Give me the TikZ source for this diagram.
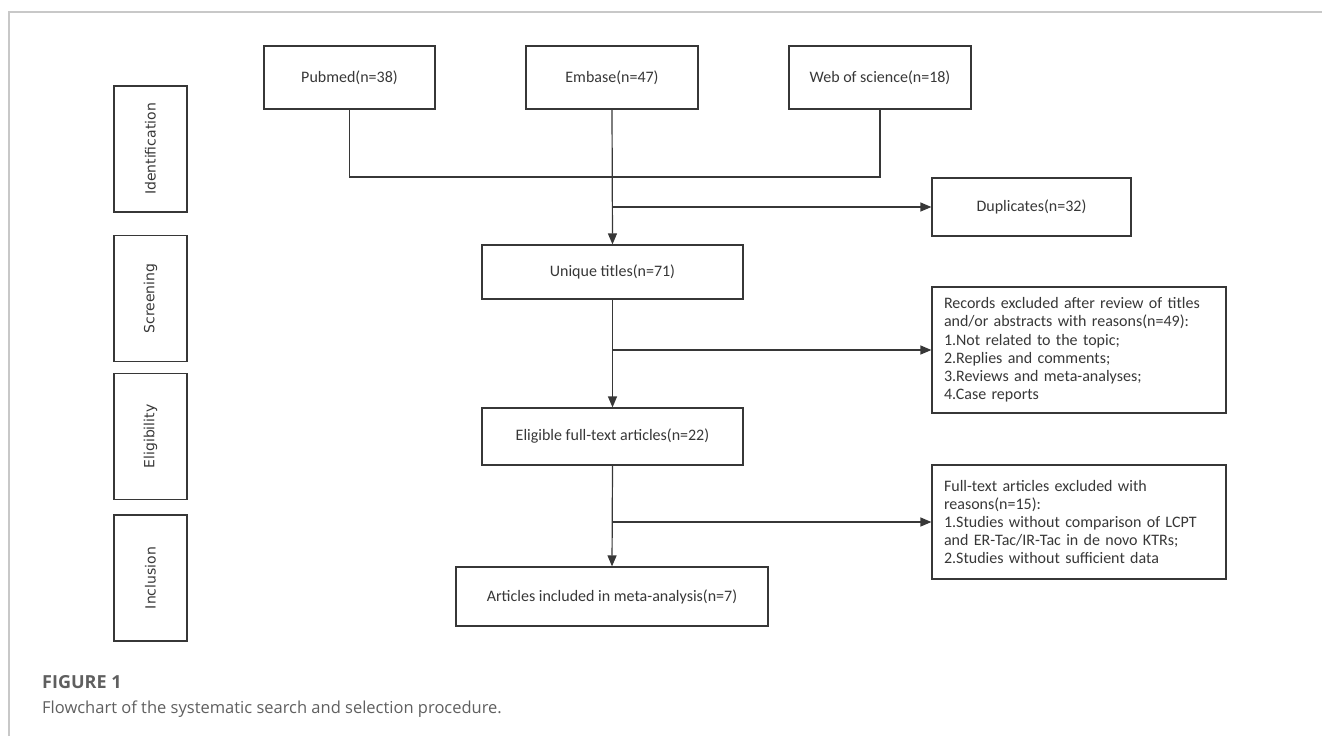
\documentclass[tikz,border=0pt]{standalone}
\usepackage{fontspec}
\setmainfont{Carlito}
\newfontfamily\sidefont{DejaVu Sans}
\newfontfamily\capfont{Open Sans}
\usepackage{tikz}
\usetikzlibrary{positioning, arrows.meta}
\definecolor{boxline}{RGB}{55,55,55}
\definecolor{capgray}{RGB}{95,95,95}
\definecolor{framegray}{RGB}{200,200,200}
\tikzstyle{source} = [rectangle, minimum height=63pt, inner sep=0pt, text centered, draw=boxline, line width=1.2pt, text=boxline, font=\fontsize{16}{19}\selectfont]
\tikzstyle{stage} = [rectangle, minimum width=73pt, minimum height=126pt, inner sep=0pt, draw=boxline, line width=1.2pt, text=boxline, font=\sidefont\fontsize{14}{17}\selectfont]
\tikzstyle{excl} = [rectangle, inner xsep=12pt, inner ysep=0pt, align=left, draw=boxline, line width=1.2pt, text=boxline, font=\fontsize{16}{18.2}\selectfont]
\tikzstyle{arrow} = [line width=1.2pt, draw=boxline, -{Triangle[length=11pt,width=9pt]}]
\tikzstyle{link} = [line width=1.2pt, draw=boxline]

\begin{document}
\begin{tikzpicture}
			[x=1pt, y=-1pt]

			\useasboundingbox (0,0) rectangle (1322,736);
			\draw [framegray, line width=1.5pt] (9,736) -- (9,12) -- (1322,12);

			% stage labels
			\node (ident) [stage] at (150.5,149) {\rotatebox{90}{Identification}};
			\node (screen) [stage] at (150.5,298.5) {\rotatebox{90}{Screening}};
			\node (elig) [stage] at (150.5,436.5) {\rotatebox{90}{Eligibility}};
			\node (incl) [stage] at (150.5,578) {\rotatebox{90}{Inclusion}};

			% databases
			\node (pubmed) [source, minimum width=171pt] at (349.5,77.5) {Pubmed(n=38)};
			\node (embase) [source, minimum width=172pt] at (612,77.5) {Embase(n=47)};
			\node (wos) [source, minimum width=182pt] at (880,77.5) {Web of science(n=18)};

			\node (dup) [source, minimum width=199pt, minimum height=58pt] at (1031.5,207) {Duplicates(n=32)};
			\node (unique) [source, minimum width=261pt, minimum height=54pt] at (612.5,272) {Unique titles(n=71)};
			\node (records) [excl, minimum width=294pt, minimum height=126pt, text width=270pt] at (1079,350) {Records excluded after review of titles\\and/or abstracts with reasons(n=49):\\1.Not related to the topic;\\2.Replies and comments;\\3.Reviews and meta-analyses;\\4.Case reports};
			\node (eligible) [source, minimum width=261pt, minimum height=57pt] at (612.5,436.5) {Eligible full-text articles(n=22)};
			\node (fulltext) [excl, minimum width=294pt, minimum height=114pt, text width=270pt] at (1079,522) {Full-text articles excluded with\\reasons(n=15):\\1.Studies without comparison of LCPT\\and ER-Tac/IR-Tac in de novo KTRs;\\2.Studies without sufficient data};
			\node (included) [source, minimum width=312pt, minimum height=59pt] at (612,596.5) {Articles included in meta-analysis(n=7)};

			\coordinate (merge) at (embase.south |- 0,177);
			\coordinate (split1) at (embase.south |- dup.west);
			\coordinate (split2) at (embase.south |- records.west);
			\coordinate (split3) at (embase.south |- fulltext.west);

			\draw [link] (pubmed.south) |- (merge) -| (wos.south);
			\draw [arrow] (embase.south) -- (unique.north);
			\draw [arrow] (split1) -- (dup.west);
			\draw [arrow] (unique.south) -- (eligible.north);
			\draw [arrow] (split2) -- (records.west);
			\draw [arrow] (eligible.south) -- (included.north);
			\draw [arrow] (split3) -- (fulltext.west);

			% caption
			\node (figno) [anchor=base west, inner sep=0pt, text=capgray, font=\capfont\bfseries\fontsize{18}{21}\selectfont] at (42,688) {FIGURE 1};
			\node (caption) [anchor=base west, inner sep=0pt, text=capgray, font=\capfont\fontsize{16.5}{20}\selectfont] at (42,713) {Flowchart of the systematic search and selection procedure.};

			\end{tikzpicture}
\end{document}
